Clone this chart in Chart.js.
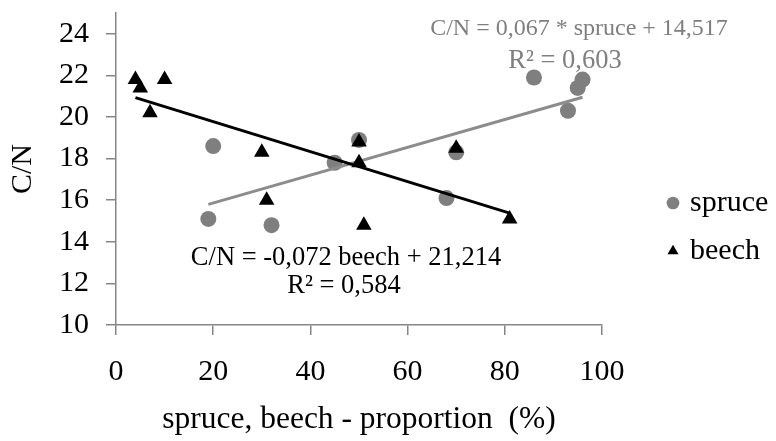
<!DOCTYPE html>
<html>
<head>
<meta charset="utf-8">
<script src="https://cdn.jsdelivr.net/npm/chart.js@4.4.1/dist/chart.umd.min.js"></script>
<style>
  html, body { margin: 0; padding: 0; background: #fff; }
  #wrap { width: 776px; height: 441px; }
</style>
</head>
<body>
<div id="wrap"><canvas id="myChart" width="776" height="441"></canvas></div>
<script>
// proportion (%) and C/N
const spruceX = [19, 20, 32, 45, 50, 68, 70, 86, 93, 95, 96];
const spruceY = [15.1, 18.6, 14.8, 17.8, 18.9, 16.1, 18.3, 21.9, 20.3, 21.4, 21.8];
const beechX = [4, 5, 7, 10, 30, 31, 50, 50, 51, 70, 81];
const beechY = [21.8, 21.4, 20.2, 21.8, 18.3, 16.0, 18.8, 17.8, 14.8, 18.5, 15.1];

// trend line ends
const spruceTrendX = [19, 96];
const spruceTrendY = [15.8, 20.95];
const beechTrendX = [4, 81];
const beechTrendY = [20.93, 15.38];

const xTicks = [0, 20, 40, 60, 80, 100];
const yTicks = [10, 12, 14, 16, 18, 20, 22, 24];

const spruceEq = ['C/N = 0,067 * spruce + 14,517', 'R\u00b2 = 0,603'];
const beechEq = ['C/N = -0,072 beech + 21,214', 'R\u00b2 = 0,584'];

const serif = "'Liberation Serif', 'Times New Roman', serif";
const axisGray = '#868686';

function toPoints(xs, ys) {
  return xs.map((x, i) => ({ x: x, y: ys[i] }));
}

Chart.defaults.color = '#000';
Chart.defaults.font.family = serif;

// equation labels
const equationText = {
  id: 'equationText',
  afterDatasetsDraw(chart) {
    const ctx = chart.ctx;
    ctx.save();
    ctx.textAlign = 'center';
    ctx.textBaseline = 'middle';
    ctx.fillStyle = '#7f7f7f';
    ctx.font = '24px ' + serif;
    ctx.fillText(spruceEq[0], 579, 29);
    ctx.font = '26.5px ' + serif;
    ctx.fillText(spruceEq[1], 565, 61);
    ctx.fillStyle = '#000';
    ctx.fillText(beechEq[0], 346, 258);
    ctx.fillText(beechEq[1], 344, 286);
    ctx.restore();
  }
};

const ctx = document.getElementById('myChart');

new Chart(ctx, {
  type: 'scatter',
  data: {
    datasets: [
      {
        label: 'spruce',
        data: toPoints(spruceX, spruceY),
        pointStyle: 'circle',
        pointRadius: 8,
        pointHoverRadius: 8,
        pointBorderWidth: 0,
        backgroundColor: '#7f7f7f',
        borderColor: '#7f7f7f',
        order: 4,
        yAxisID: 'y'
      },
      {
        label: 'beech',
        data: toPoints(beechX, beechY),
        pointStyle: 'triangle',
        pointRadius: 9,
        pointHoverRadius: 9,
        pointBorderWidth: 0,
        backgroundColor: '#000',
        borderColor: '#000',
        order: 1,
        yAxisID: 'y'
      },
      {
        label: 'spruce trend',
        data: toPoints(spruceTrendX, spruceTrendY),
        showLine: true,
        pointRadius: 0,
        borderWidth: 3,
        borderColor: '#8c8c8c',
        order: 3,
        yAxisID: 'y'
      },
      {
        label: 'beech trend',
        data: toPoints(beechTrendX, beechTrendY),
        showLine: true,
        pointRadius: 0,
        borderWidth: 3,
        borderColor: '#000',
        order: 2,
        yAxisID: 'y'
      }
    ]
  },
  options: {
    responsive: false,
    animation: false,
    layout: { padding: { top: 13, left: 0, right: 0, bottom: 0 } },
    plugins: {
      tooltip: { enabled: false },
      legend: {
        position: 'right',
        maxWidth: 123,
        labels: {
          usePointStyle: true,
          boxWidth: 4,
          boxHeight: 9,
          padding: 18,
          font: { size: 30, family: serif },
          filter: (item) => item.datasetIndex < 2,
          sort: (a, b) => a.datasetIndex - b.datasetIndex
        }
      }
    },
    scales: {
      x: {
        type: 'linear',
        min: 0,
        max: 100,
        afterBuildTicks: (s) => { s.ticks = xTicks.map(v => ({ value: v })); },
        afterFit: (s) => { s.height = 116; s.paddingLeft = 0; s.paddingRight = 0; },
        grid: { drawOnChartArea: false, drawTicks: true, tickLength: 10, color: axisGray, lineWidth: 1.5 },
        border: { display: true, color: axisGray, width: 1.5 },
        ticks: { padding: 19, color: '#000', font: { size: 30, family: serif } },
        title: {
          display: true,
          text: 'spruce, beech - proportion  (%)',
          color: '#000',
          font: { size: 31.5, family: serif },
          padding: { top: 0, bottom: 2 }
        }
      },
      y: {
        type: 'linear',
        position: 'left',
        min: 10,
        max: 25,
        afterBuildTicks: (s) => { s.ticks = yTicks.map(v => ({ value: v })); },
        afterFit: (s) => { s.width = 116; s.paddingTop = 0; s.paddingBottom = 0; },
        grid: { drawOnChartArea: false, drawTicks: true, tickLength: 10, color: axisGray, lineWidth: 1.5 },
        border: { display: true, color: axisGray, width: 1.5 },
        ticks: { padding: 17, color: '#000', font: { size: 30, family: serif } },
        title: {
          display: true,
          text: 'C/N',
          color: '#000',
          font: { size: 30, family: serif },
          padding: { top: 5, bottom: 0 }
        }
      },
      // empty space between plot and legend
      gap: {
        type: 'linear',
        position: 'right',
        display: true,
        afterFit: (s) => { s.width = 51; },
        grid: { display: false },
        border: { display: false },
        ticks: { display: false }
      }
    }
  },
  plugins: [equationText]
});
</script>
</body>
</html>
